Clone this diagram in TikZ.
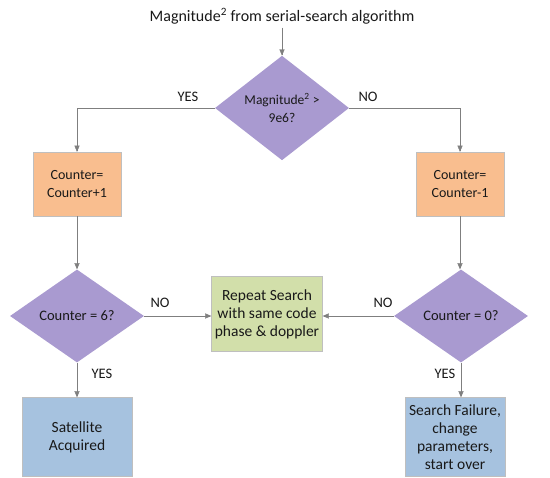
\documentclass[tikz,border=0pt]{standalone}
\usepackage{fontspec}
\setmainfont{Carlito}
\usetikzlibrary{shapes.geometric,arrows}

\definecolor{lilac}{HTML}{A99AD0}
\definecolor{peach}{HTML}{F9BE8F}
\definecolor{sage}{HTML}{D2DFAA}
\definecolor{sky}{HTML}{A6C2DF}
\definecolor{wire}{HTML}{7F7F7F}

\newcommand{\fsz}[1]{\fontsize{#1}{18}\selectfont}

\tikzset{
  decision/.style={diamond, fill=lilac, inner sep=0pt, align=center,
    minimum width=134pt, minimum height=93pt},
  stepbox/.style={rectangle, draw=black!25, align=center, inner sep=1pt},
  flow/.style={draw=wire, arrows={-triangle 45}},
  lbl/.style={inner sep=1pt, font=\fsz{14.5}}
}

\begin{document}
\begin{tikzpicture}[x=1pt, y=-1pt, font=\fsz{14}, text=black!90]

            \useasboundingbox (0,0) rectangle (550,478);

            \node [font=\fsz{16}] (src) at (282,16) {Magnitude\textsuperscript{2} from serial-search algorithm};
            \node [decision, font=\fsz{13.5}] (mag) at (282,108) {Magnitude\textsuperscript{2} >\\9e6?};

            \node [stepbox, fill=peach, minimum width=88pt, minimum height=64pt] (inc) at (77,184) {Counter=\\Counter+1};
            \node [stepbox, fill=peach, minimum width=88pt, minimum height=64pt] (dec) at (460,184) {Counter=\\Counter-1};

            \node [decision, font=\fsz{14.5}] (six) at (77,316) {Counter = 6?};
            \node [decision, font=\fsz{14.5}] (zero) at (461,316) {Counter = 0?};

            \node [stepbox, fill=sage, font=\fsz{15.5}, minimum width=111pt, minimum height=75pt] (rep) at (267,314) {Repeat Search\\with same code\\phase \& doppler};

            \node [stepbox, fill=sky, font=\fsz{15.5}, minimum width=110pt, minimum height=79pt] (acq) at (77,437) {Satellite\\Acquired};
            \node [stepbox, fill=sky, font=\fsz{15.5}, minimum width=100pt, minimum height=79pt] (fail) at (455,437) {Search Failure,\\change\\parameters,\\start over};

            \draw [flow] (src) -- (mag);

            \draw [flow] (mag.west) -| (inc.north);
            \node [lbl] (yes1) at (188,97) {YES};
            \draw [flow] (mag.east) -| (dec.north);
            \node [lbl] (no1) at (368,97) {NO};

            \draw [flow] (inc) -- (six);
            \draw [flow] (dec.south) -- (dec.south |- zero.north);

            \draw [flow] (six.east) -- (rep.west |- six.east);
            \node [lbl] (no2) at (160,303) {NO};
            \draw [flow] (zero.west) -- (rep.east |- zero.west);
            \node [lbl] (no3) at (383,303) {NO};

            \draw [flow] (six) -- (acq);
            \node [lbl] (yes2) at (102,374) {YES};
            \draw [flow] (zero.south) -- (zero.south |- fail.north);
            \node [lbl] (yes3) at (445,374) {YES};

\end{tikzpicture}
\end{document}
